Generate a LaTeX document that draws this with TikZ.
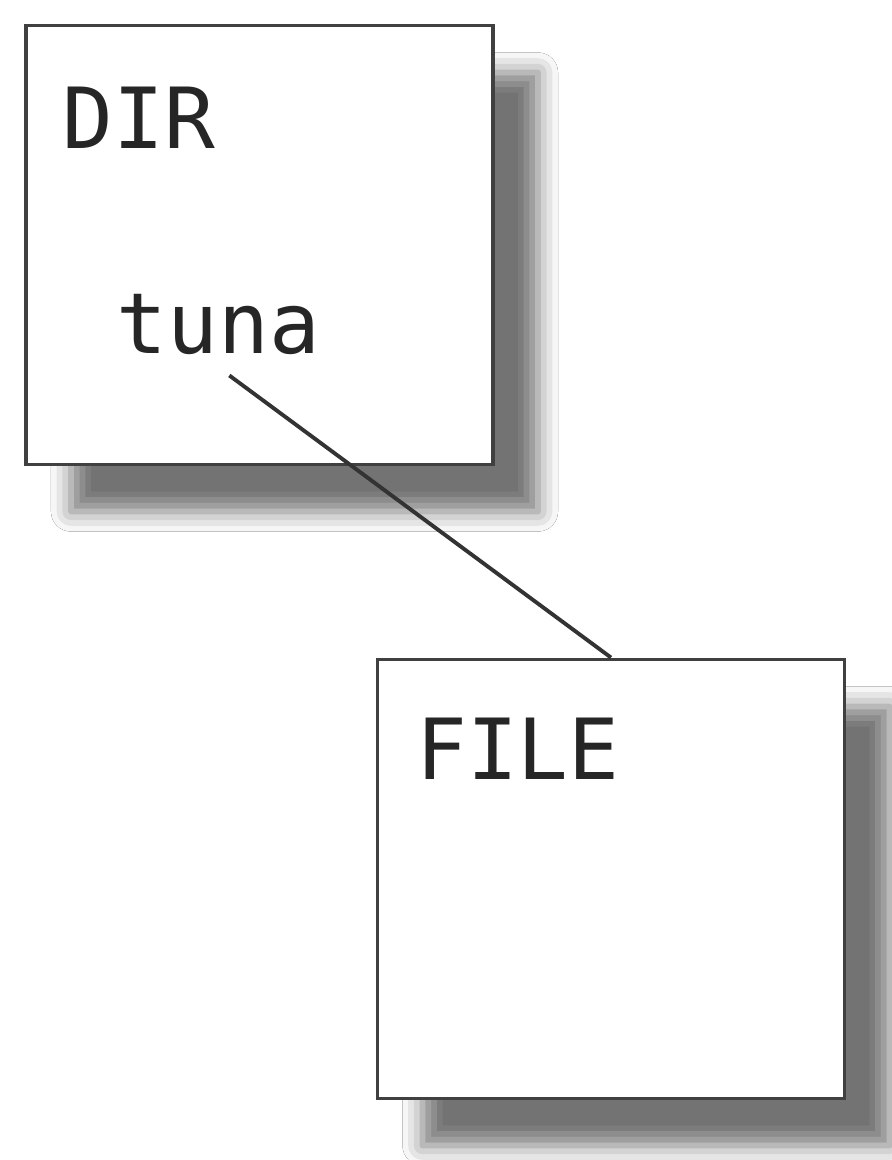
\documentclass[tikz,border=0pt]{standalone}
\usepackage{fontspec}
\newfontfamily\boxfont{DejaVu Sans Mono}
\usetikzlibrary{shadows.blur}
\tikzstyle{box} = [rectangle, minimum width=4.67cm, minimum height=4.39cm, draw=black!75, line width=1.1pt, fill=white, blur shadow={shadow xshift=0.45cm, shadow yshift=-0.47cm, shadow blur radius=0.2cm, shadow opacity=55}]
\tikzstyle{lbl} = [inner sep=0pt, anchor=base west, text=black!85, font=\boxfont\fontsize{24}{29}\selectfont]
\tikzstyle{link} = [draw=black!80, line width=1.1pt]

\begin{document}
\begin{tikzpicture}[node distance=6.34cm]
    \path [use as bounding box, fill=white] (0,0) rectangle (8.92,-11.6);

    \node (dir)  [box] at (2.595,-2.45) {};
    \node (file) [box, below of=dir, xshift=3.515cm] {};

    \node (dirname)  [lbl] at ([shift={(0.38,-1.25)}]dir.north west) {DIR};
    \node (tuna)     [lbl, inner ysep=0.2cm] at ([shift={(0.92,-3.3)}]dir.north west) {tuna};
    \node (filename) [lbl] at ([shift={(0.4,-1.22)}]file.north west) {FILE};

    \draw [link] ([xshift=0.11cm]tuna.south) -- (file.north);

  \end{tikzpicture}
\end{document}
